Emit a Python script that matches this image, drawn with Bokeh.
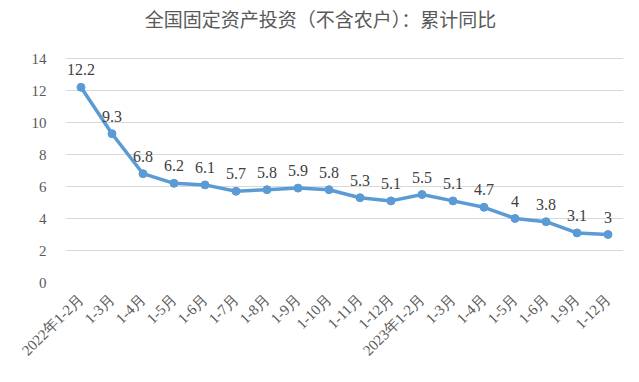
import math
from bokeh.plotting import figure
from bokeh.models import ColumnDataSource, FixedTicker, Range1d, Label, LabelSet
from bokeh.embed import file_html
from bokeh.resources import INLINE

categories = ["2022年1-2月", "1-3月", "1-4月", "1-5月", "1-6月", "1-7月", "1-8月", "1-9月",
              "1-10月", "1-11月", "1-12月", "2023年1-2月", "1-3月", "1-4月", "1-5月", "1-6月",
              "1-9月", "1-12月"]
values = [12.2, 9.3, 6.8, 6.2, 6.1, 5.7, 5.8, 5.9, 5.8, 5.3, 5.1, 5.5, 5.1, 4.7, 4, 3.8, 3.1, 3]
value_labels = ["12.2", "9.3", "6.8", "6.2", "6.1", "5.7", "5.8", "5.9", "5.8", "5.3", "5.1",
                "5.5", "5.1", "4.7", "4", "3.8", "3.1", "3"]
y_ticks = [0, 2, 4, 6, 8, 10, 12, 14]
title_text = "全国固定资产投资（不含农户）：累计同比"

idx = list(range(len(categories)))
src = ColumnDataSource(dict(x=idx, y=values, lbl=value_labels))

FONT = "Liberation Serif"
# frame extends to the top of the canvas so the title can sit inside it
p = figure(frame_width=558, frame_height=282, output_backend="svg", toolbar_location=None,
           x_range=Range1d(-0.5, len(categories) - 0.5), y_range=Range1d(0, 14 + 58 / 16),
           min_border_left=65, min_border_right=10, min_border_top=0, min_border_bottom=94)
p.outline_line_color = None
p.background_fill_color = "white"
p.border_fill_color = "white"

p.xgrid.grid_line_color = None
p.ygrid.grid_line_color = "#D9D9D9"
p.ygrid.grid_line_width = 1
p.yaxis.ticker = FixedTicker(ticks=y_ticks)
p.xaxis.ticker = FixedTicker(ticks=idx)
p.xaxis.major_label_overrides = {i: c for i, c in enumerate(categories)}
p.xaxis.major_label_orientation = math.pi / 4

for ax in (p.xaxis[0], p.yaxis[0]):
    ax.axis_line_color = None
    ax.major_tick_line_color = None
    ax.minor_tick_line_color = None
    ax.major_label_text_font = FONT
    ax.major_label_text_color = "#595959"
p.yaxis.major_label_text_font_size = "15px"
p.xaxis.major_label_text_font_size = "15px"
p.yaxis.major_label_standoff = 13
p.xaxis.major_label_standoff = 8

p.line("x", "y", source=src, line_color="#5B9BD5", line_width=3.5)
p.scatter("x", "y", source=src, size=8, fill_color="#5B9BD5", line_color="#5B9BD5")

labels = LabelSet(x="x", y="y", text="lbl", source=src, text_align="center",
                  text_baseline="bottom", y_offset=12, text_font=FONT,
                  text_font_size="16px", text_color="#404040")
p.add_layout(labels)

title = Label(x=255, y=264, x_units="screen", y_units="screen",
              text=title_text, text_align="center",
              text_baseline="middle", text_font="Noto Sans CJK SC", text_font_size="19px",
              text_font_style="normal", text_color="#595959")
p.add_layout(title)

open("out.html", "w").write(file_html(p, INLINE))
